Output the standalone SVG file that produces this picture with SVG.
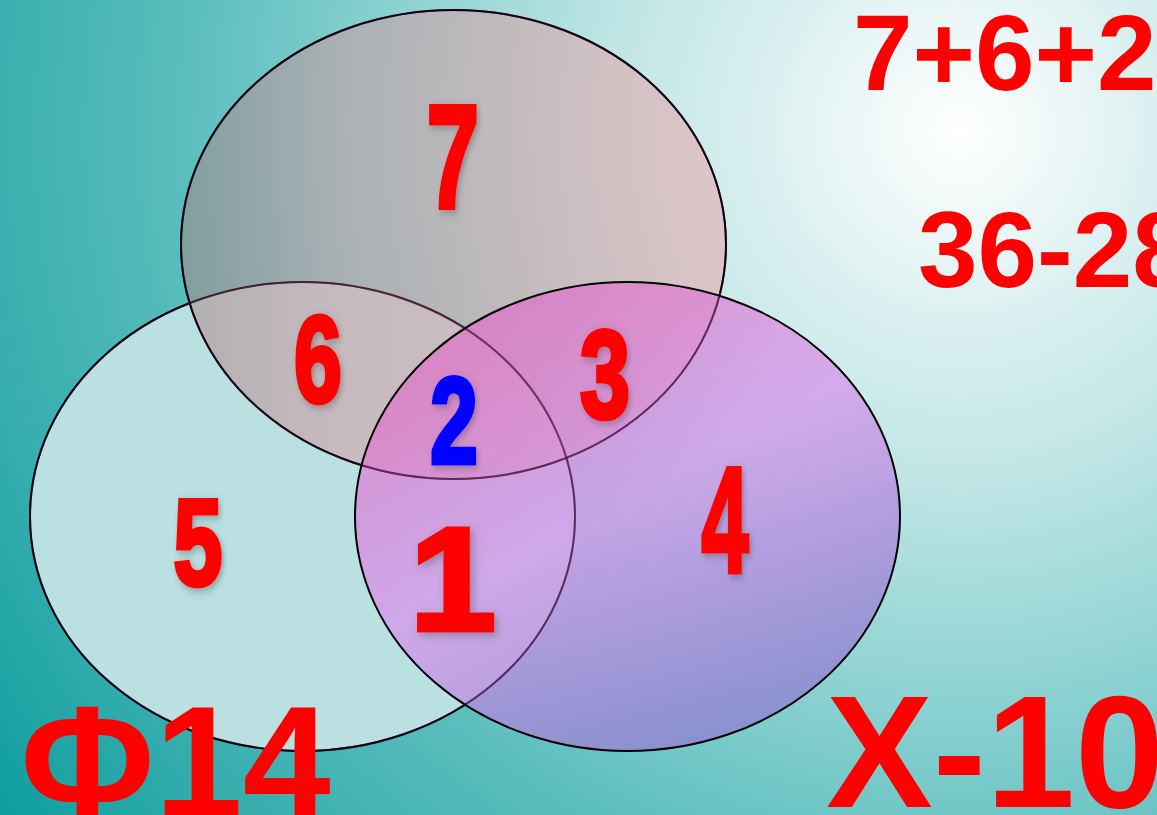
<svg xmlns="http://www.w3.org/2000/svg" width="1157" height="815" viewBox="0 0 1157 815">
<defs>
<radialGradient id="bg" gradientUnits="userSpaceOnUse" cx="960" cy="130" r="1180">
<stop offset="0" stop-color="#ffffff"/>
<stop offset="0.1" stop-color="#eaf6f6"/>
<stop offset="0.16" stop-color="#dcf0f0"/>
<stop offset="0.3" stop-color="#bfe5e5"/>
<stop offset="0.5" stop-color="#88d0d0"/>
<stop offset="0.67" stop-color="#58bcbc"/>
<stop offset="0.82" stop-color="#3aafaf"/>
<stop offset="1" stop-color="#0e9e9e"/>
</radialGradient>
<linearGradient id="gTop" gradientUnits="userSpaceOnUse" x1="181" y1="0" x2="726" y2="0">
<stop offset="0" stop-color="#a88080"/>
<stop offset="0.3" stop-color="#d4969c"/>
<stop offset="1" stop-color="#e8a0a4"/>
</linearGradient>
<linearGradient id="gRight" gradientUnits="userSpaceOnUse" x1="480" y1="330" x2="720" y2="760">
<stop offset="0" stop-color="#e070c8"/>
<stop offset="0.45" stop-color="#d890ec"/>
<stop offset="0.85" stop-color="#a07cd6"/>
<stop offset="1" stop-color="#8c78d0"/>
</linearGradient>
<filter id="sh" x="-30%" y="-30%" width="160%" height="160%">
<feGaussianBlur in="SourceAlpha" stdDeviation="4"/>
<feOffset dx="3" dy="3" result="b"/>
<feFlood flood-color="#505050" flood-opacity="0.45"/>
<feComposite in2="b" operator="in"/>
<feMerge><feMergeNode/><feMergeNode in="SourceGraphic"/></feMerge>
</filter>
<style>
.ell{stroke:#000;stroke-width:2}
.under{fill:none;stroke:#2a0424;stroke-opacity:0.55;stroke-width:2}
.num{font-family:"Liberation Sans",Arial,sans-serif;font-weight:bold;fill:#ff0000;stroke:#ff0000;stroke-width:5;stroke-linejoin:miter;text-anchor:middle;filter:url(#sh)}
.big{font-family:"Liberation Sans",Arial,sans-serif;font-weight:bold;fill:#ff0000}
</style>
</defs>
<rect x="0" y="0" width="1157" height="815" fill="url(#bg)"/>
<g id="set-left"><ellipse class="ell" cx="302.5" cy="516.5" rx="272.5" ry="234.5" fill="#bae0e2"/></g>
<g id="set-top"><ellipse class="ell" cx="453.5" cy="244.5" rx="272.5" ry="234.5" fill="url(#gTop)" fill-opacity="0.5"/></g>
<g id="set-right"><ellipse class="ell" cx="627.5" cy="516.5" rx="272.5" ry="234.5" fill="url(#gRight)" fill-opacity="0.7"/></g>
<g id="connectors">
<ellipse class="under" cx="302.5" cy="516.5" rx="272.5" ry="234.5"/>
<ellipse class="under" cx="453.5" cy="244.5" rx="272.5" ry="234.5"/>
</g>
<g id="labels">
<text class="num" font-size="147" transform="translate(453,207) scale(0.64,1)">7</text>
<text class="num" font-size="123" transform="translate(318,402) scale(0.7,1)">6</text>
<text class="num" font-size="125" transform="translate(605,418) scale(0.72,1)">3</text>
<text class="num" font-size="122" transform="translate(454,463) scale(0.7,1)" style="fill:#0000ff;stroke:#0000ff">2</text>
<text class="num" font-size="122" transform="translate(198,585) scale(0.72,1)">5</text>
<text class="num" font-size="147" transform="translate(453,630) scale(1.05,1)">1</text>
<text class="num" font-size="151" transform="translate(725,572) scale(0.56,1)">4</text>
</g>
<g id="notes">
<text class="big" font-size="107" x="853" y="90">7+6+2+</text>
<text class="big" font-size="107" x="918" y="287">36-28</text>
<text class="big" font-size="158" x="20" y="816">Ф14</text>
<text class="big" font-size="160" x="826" y="807">X-10</text>
</g>
</svg>
